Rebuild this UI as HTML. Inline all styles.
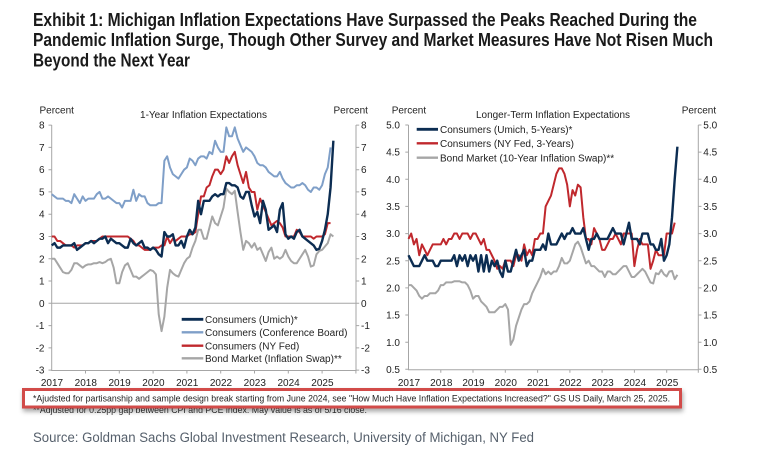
<!DOCTYPE html>
<html><head><meta charset="utf-8"><style>
html,body{margin:0;padding:0;background:#fff;}
svg{display:block;}
text{font-family:"Liberation Sans",Arial,sans-serif;}
</style></head><body>
<svg width="762" height="464" viewBox="0 0 762 464" xmlns="http://www.w3.org/2000/svg">
<defs>
<filter id="sh" x="-5%" y="-50%" width="110%" height="220%">
<feDropShadow dx="1" dy="3" stdDeviation="2.5" flood-color="#000" flood-opacity="0.35"/>
</filter>
</defs>
<rect width="762" height="464" fill="#fff"/>
<!-- Title -->
<g font-family="'Liberation Sans Narrow','Liberation Sans',sans-serif" font-weight="bold" font-size="18" fill="#1a1a1a">
<text x="33" y="26" textLength="664" lengthAdjust="spacingAndGlyphs">Exhibit 1: Michigan Inflation Expectations Have Surpassed the Peaks Reached During the</text>
<text x="33" y="46" textLength="680" lengthAdjust="spacingAndGlyphs">Pandemic Inflation Surge, Though Other Survey and Market Measures Have Not Risen Much</text>
<text x="33" y="66.5" textLength="157" lengthAdjust="spacingAndGlyphs">Beyond the Next Year</text>
</g>

<!-- LEFT PANEL -->
<g font-size="10" fill="#222">
<text x="39.5" y="113.5">Percent</text>
<text x="333.5" y="113.5">Percent</text>
<text x="203.5" y="118" text-anchor="middle" textLength="127" lengthAdjust="spacingAndGlyphs">1-Year Inflation Expectations</text>
<g text-anchor="end">
<text x="44.5" y="128.6">8</text><text x="44.5" y="150.9">7</text><text x="44.5" y="173.2">6</text><text x="44.5" y="195.4">5</text>
<text x="44.5" y="217.7">4</text><text x="44.5" y="240">3</text><text x="44.5" y="262.3">2</text><text x="44.5" y="284.5">1</text>
<text x="44.5" y="306.8">0</text><text x="44.5" y="329.1">-1</text><text x="44.5" y="351.4">-2</text><text x="44.5" y="373.6">-3</text>
</g>
<g>
<text x="361" y="128.6">8</text><text x="361" y="150.9">7</text><text x="361" y="173.2">6</text><text x="361" y="195.4">5</text>
<text x="361" y="217.7">4</text><text x="361" y="240">3</text><text x="361" y="262.3">2</text><text x="361" y="284.5">1</text>
<text x="361" y="306.8">0</text><text x="361" y="329.1">-1</text><text x="361" y="351.4">-2</text><text x="361" y="373.6">-3</text>
</g>
<g text-anchor="middle">
<text x="52" y="386">2017</text><text x="85.8" y="386">2018</text><text x="119.6" y="386">2019</text><text x="153.4" y="386">2020</text>
<text x="187.2" y="386">2021</text><text x="221" y="386">2022</text><text x="254.8" y="386">2023</text><text x="288.6" y="386">2024</text><text x="322.4" y="386">2025</text>
</g>
</g>
<g stroke="#a6a6a6" stroke-width="1" fill="none">
<path d="M51.7 125V370.5H356V125"/>
<path d="M51.7 303.3H356"/>
<path d="M48.5 125.1h3.2M48.5 147.4h3.2M48.5 169.7h3.2M48.5 191.9h3.2M48.5 214.2h3.2M48.5 236.5h3.2M48.5 258.8h3.2M48.5 281h3.2M48.5 303.3h3.2M48.5 325.6h3.2M48.5 347.9h3.2M48.5 370.1h3.2"/>
<path d="M356 125.1h3.2M356 147.4h3.2M356 169.7h3.2M356 191.9h3.2M356 214.2h3.2M356 236.5h3.2M356 258.8h3.2M356 281h3.2M356 303.3h3.2M356 325.6h3.2M356 347.9h3.2M356 370.1h3.2"/>
<path d="M85.5 370.5v3M119.3 370.5v3M153.1 370.5v3M186.9 370.5v3M220.7 370.5v3M254.5 370.5v3M288.3 370.5v3M322.1 370.5v3M355.9 370.5v3"/>
</g>
<g transform="translate(51.7,303.3) scale(2.8167,-22.27)" fill="none" stroke-linejoin="round">
<polyline vector-effect="non-scaling-stroke" stroke="#a6a6a6" stroke-width="2" points="0,2.0 1,2.0 2,1.8 3,1.6 4,1.4 5,1.35 6,1.35 7,1.5 8,1.8 9,1.8 10,1.7 11,1.6 12,1.7 13,1.75 14,1.75 15,1.8 16,1.8 17,1.85 18,1.8 19,1.85 20,1.95 21,2.0 22,1.6 23,0.9 24,0.9 25,1.4 26,1.7 27,1.8 28,1.5 29,1.2 30,1.2 31,1.1 32,1.2 33,1.3 34,1.4 35,1.5 36,1.45 37,1.3 38,-0.5 39,-1.25 40,-0.6 41,0.7 42,1.5 43,1.35 44,1.25 45,1.2 46,1.5 47,1.8 48,2.0 49,2.1 50,2.5 51,2.8 52,3.3 53,3.3 54,2.9 55,2.9 56,3.4 57,3.9 58,3.6 59,3.5 60,3.9 61,4.3 62,5.15 63,5.0 64,4.9 65,5.05 66,4.1 67,3.2 68,2.4 69,2.8 70,2.7 71,2.5 72,2.7 73,2.4 74,2.5 75,2.2 76,1.9 77,2.3 78,2.5 79,2.0 80,2.1 81,2.0 82,2.1 83,2.4 84,2.1 85,1.9 86,1.8 87,1.8 88,2.0 89,2.2 90,2.4 91,2.1 92,1.65 93,1.7 94,2.2 95,2.35 96,2.4 97,2.55 98,2.7 99,3.1 100,3.0"/>
<polyline vector-effect="non-scaling-stroke" stroke="#7f9fc8" stroke-width="2" points="0,4.9 1,4.8 2,4.7 3,4.7 4,4.7 5,4.6 6,4.6 7,4.5 8,4.9 9,4.7 10,4.5 11,4.8 12,4.6 13,4.7 14,4.7 15,4.7 16,4.9 17,5.0 18,4.7 19,4.7 20,4.8 21,4.7 22,4.6 23,4.5 24,4.5 25,4.3 26,4.6 27,4.6 28,4.6 29,5.1 30,4.6 31,4.9 32,4.8 33,4.8 34,4.5 35,4.4 36,4.4 37,4.4 38,4.5 39,4.5 40,6.4 41,6.6 42,6.1 43,5.8 44,5.7 45,5.6 46,5.8 47,6.0 48,6.1 49,6.5 50,6.4 51,6.2 52,6.5 53,6.6 54,6.6 55,6.5 56,6.8 57,6.7 58,7.3 59,7.0 60,6.8 61,6.8 62,7.9 63,7.5 64,7.5 65,7.9 66,7.4 67,7.1 68,6.8 69,7.0 70,6.9 71,6.8 72,6.6 73,6.3 74,6.2 75,6.2 76,6.1 77,5.9 78,5.8 79,5.7 80,5.7 81,5.9 82,5.6 83,5.4 84,5.3 85,5.2 86,5.2 87,5.3 88,5.3 89,5.4 90,5.3 91,5.1 92,5.0 93,5.2 94,5.2 95,5.1 96,5.3 97,5.8 98,6.1 99,7.0"/>
<polyline vector-effect="non-scaling-stroke" stroke="#c0282d" stroke-width="2" points="0,3.0 1,3.0 2,2.8 3,2.8 4,2.7 5,2.6 6,2.6 7,2.6 8,2.5 9,2.6 10,2.6 11,2.6 12,2.7 13,2.7 14,2.8 15,2.8 16,2.8 17,2.9 18,3.0 19,3.0 20,3.0 21,3.0 22,3.0 23,3.0 24,3.0 25,3.0 26,3.0 27,3.0 28,2.9 29,2.8 30,2.6 31,2.6 32,2.5 33,2.4 34,2.4 35,2.4 36,2.5 37,2.5 38,2.5 39,2.6 40,2.6 41,3.0 42,2.7 43,2.9 44,2.8 45,2.9 46,3.0 47,3.0 48,3.0 49,3.1 50,3.1 51,3.2 52,4.0 53,4.8 54,4.8 55,5.2 56,5.3 57,5.7 58,6.0 59,6.0 60,5.8 61,6.0 62,6.6 63,6.3 64,6.6 65,6.8 66,6.2 67,5.8 68,5.4 69,5.9 70,5.2 71,5.0 72,5.0 73,4.2 74,4.7 75,4.4 76,4.1 77,3.8 78,3.5 79,3.6 80,3.7 81,3.6 82,3.4 83,3.0 84,3.0 85,3.0 86,3.0 87,3.3 88,3.2 89,3.0 90,3.0 91,3.0 92,3.0 93,2.9 94,3.0 95,3.0 96,3.0 97,3.1 98,3.6 99,3.6"/>
<polyline vector-effect="non-scaling-stroke" stroke="#0c2d52" stroke-width="2.4" points="0,2.6 1,2.7 2,2.5 3,2.5 4,2.6 5,2.6 6,2.6 7,2.6 8,2.7 9,2.4 10,2.5 11,2.6 12,2.7 13,2.7 14,2.8 15,2.7 16,2.8 17,2.9 18,2.9 19,3.0 20,2.7 21,2.9 22,2.8 23,2.7 24,2.7 25,2.6 26,2.5 27,2.5 28,2.9 29,2.7 30,2.6 31,2.7 32,2.8 33,2.5 34,2.5 35,2.4 36,2.5 37,2.4 38,2.2 39,2.1 40,3.2 41,3.0 42,3.0 43,3.1 44,2.6 45,2.6 46,2.8 47,2.5 48,3.0 49,3.3 50,3.1 51,3.4 52,4.6 53,4.0 54,4.6 55,4.6 56,4.6 57,4.8 58,4.9 59,4.8 60,4.9 61,4.9 62,5.4 63,5.4 64,5.3 65,5.3 66,5.2 67,4.8 68,4.7 69,5.0 70,5.0 71,4.4 72,3.9 73,4.1 74,3.6 75,4.6 76,4.2 77,3.3 78,3.4 79,3.5 80,3.2 81,4.2 82,4.5 83,3.1 84,2.9 85,3.0 86,2.9 87,3.2 88,3.3 89,3.0 90,2.9 91,2.8 92,2.7 93,2.6 94,2.4 95,2.45 96,2.8 97,3.3 98,4.0 99,5.2 100,7.3"/>
</g>
<!-- left legend -->
<g stroke-width="2.4">
<line x1="181.7" y1="319.3" x2="203.3" y2="319.3" stroke="#0c2d52" stroke-width="2.8"/>
<line x1="181.7" y1="332.3" x2="203.3" y2="332.3" stroke="#7f9fc8"/>
<line x1="181.7" y1="345.7" x2="203.3" y2="345.7" stroke="#c0282d"/>
<line x1="181.7" y1="358.3" x2="203.3" y2="358.3" stroke="#a6a6a6"/>
</g>
<g font-size="10" fill="#222">
<text x="205" y="322.9">Consumers (Umich)*</text>
<text x="205" y="335.9" textLength="142.5" lengthAdjust="spacingAndGlyphs">Consumers (Conference Board)</text>
<text x="205" y="349.3">Consumers (NY Fed)</text>
<text x="205" y="361.9">Bond Market (Inflation Swap)**</text>
</g>

<!-- RIGHT PANEL -->
<g font-size="10" fill="#222">
<text x="391.7" y="113.5">Percent</text>
<text x="681.7" y="113.5">Percent</text>
<text x="553" y="118" text-anchor="middle" textLength="154" lengthAdjust="spacingAndGlyphs">Longer-Term Inflation Expectations</text>
<g text-anchor="end">
<text x="400" y="128.6">5.0</text><text x="400" y="155.7">4.5</text><text x="400" y="182.9">4.0</text><text x="400" y="210">3.5</text>
<text x="400" y="237.2">3.0</text><text x="400" y="264.3">2.5</text><text x="400" y="291.5">2.0</text><text x="400" y="318.6">1.5</text>
<text x="400" y="345.8">1.0</text><text x="400" y="372.9">0.5</text>
</g>
<g>
<text x="703.3" y="128.6">5.0</text><text x="703.3" y="155.7">4.5</text><text x="703.3" y="182.9">4.0</text><text x="703.3" y="210">3.5</text>
<text x="703.3" y="237.2">3.0</text><text x="703.3" y="264.3">2.5</text><text x="703.3" y="291.5">2.0</text><text x="703.3" y="318.6">1.5</text>
<text x="703.3" y="345.8">1.0</text><text x="703.3" y="372.9">0.5</text>
</g>
<g text-anchor="middle">
<text x="409" y="386">2017</text><text x="441.3" y="386">2018</text><text x="473.5" y="386">2019</text><text x="505.8" y="386">2020</text>
<text x="538.1" y="386">2021</text><text x="570.4" y="386">2022</text><text x="602.6" y="386">2023</text><text x="634.9" y="386">2024</text><text x="667.2" y="386">2025</text>
</g>
</g>
<g stroke="#a6a6a6" stroke-width="1" fill="none">
<path d="M408.5 125V369.8H698.3V125"/>
<path d="M405.3 125h3.2M405.3 152.1h3.2M405.3 179.3h3.2M405.3 206.4h3.2M405.3 233.6h3.2M405.3 260.7h3.2M405.3 287.9h3.2M405.3 315h3.2M405.3 342.2h3.2M405.3 369.3h3.2"/>
<path d="M698.3 125h3.2M698.3 152.1h3.2M698.3 179.3h3.2M698.3 206.4h3.2M698.3 233.6h3.2M698.3 260.7h3.2M698.3 287.9h3.2M698.3 315h3.2M698.3 342.2h3.2M698.3 369.3h3.2"/>
<path d="M440.8 369.8v3M473 369.8v3M505.3 369.8v3M537.6 369.8v3M569.9 369.8v3M602.1 369.8v3M634.4 369.8v3M666.7 369.8v3M698.3 369.8v3"/>
</g>
<g transform="translate(408.5,396.4) scale(2.689,-54.29)" fill="none" stroke-linejoin="round">
<polyline vector-effect="non-scaling-stroke" stroke="#a6a6a6" stroke-width="2" points="0,2.05 1,2.05 2,2.0 3,1.95 4,1.85 5,1.8 6,1.85 7,1.85 8,1.9 9,1.9 10,1.9 11,1.95 12,2.05 13,2.05 14,2.1 15,2.1 16,2.1 17,2.12 18,2.12 19,2.12 20,2.1 21,2.1 22,2.05 23,1.95 24,1.8 25,1.85 26,1.85 27,1.75 28,1.7 29,1.65 30,1.55 31,1.55 32,1.55 33,1.6 34,1.65 35,1.65 36,1.7 37,1.6 38,0.95 39,1.05 40,1.3 41,1.45 42,1.6 43,1.7 44,1.7 45,1.75 46,1.9 47,2.0 48,2.1 49,2.2 50,2.35 51,2.25 52,2.3 53,2.25 54,2.3 55,2.3 56,2.4 57,2.55 58,2.45 59,2.45 60,2.5 61,2.65 62,2.8 63,2.85 64,2.75 65,2.6 66,2.45 67,2.5 68,2.4 69,2.4 70,2.35 71,2.3 72,2.3 73,2.2 74,2.3 75,2.3 76,2.25 77,2.25 78,2.3 79,2.35 80,2.4 81,2.4 82,2.3 83,2.2 84,2.2 85,2.25 86,2.3 87,2.35 88,2.3 89,2.2 90,2.1 91,2.08 92,2.27 93,2.25 94,2.33 95,2.25 96,2.21 97,2.3 98,2.31 99,2.16 100,2.24"/>
<polyline vector-effect="non-scaling-stroke" stroke="#c0282d" stroke-width="2" points="0,2.9 1,3.0 2,2.8 3,2.9 4,2.6 5,2.8 6,2.7 7,2.6 8,2.7 9,2.8 10,2.8 11,2.8 12,2.8 13,2.9 14,2.8 15,2.9 16,2.9 17,3.0 18,3.0 19,2.9 20,3.0 21,3.0 22,3.0 23,2.9 24,3.0 25,3.0 26,2.9 27,2.8 28,2.9 29,2.7 30,2.7 31,2.6 32,2.5 33,2.35 34,2.4 35,2.35 36,2.5 37,2.5 38,2.5 39,2.4 40,2.6 41,2.6 42,2.5 43,2.8 44,2.6 45,2.7 46,2.6 47,2.9 48,2.9 49,3.0 50,3.0 51,3.5 52,3.6 53,3.7 54,3.9 55,4.1 56,4.2 57,4.2 58,4.1 59,3.9 60,3.5 61,3.8 62,3.7 63,3.9 64,3.85 65,3.3 66,2.9 67,2.9 68,2.8 69,3.1 70,3.0 71,2.9 72,2.7 73,2.7 74,2.8 75,2.9 76,2.9 77,3.0 78,2.9 79,2.8 80,3.0 81,3.0 82,3.0 83,3.0 84,2.4 85,2.7 86,2.9 87,2.8 88,2.8 89,2.8 90,2.35 91,2.5 92,2.7 93,2.6 94,2.6 95,2.6 96,3.0 97,3.0 98,3.0 99,3.2"/>
<polyline vector-effect="non-scaling-stroke" stroke="#0c2d52" stroke-width="2.4" points="0,2.6 1,2.5 2,2.4 3,2.4 4,2.4 5,2.5 6,2.6 7,2.5 8,2.5 9,2.5 10,2.4 11,2.4 12,2.5 13,2.5 14,2.5 15,2.5 16,2.5 17,2.6 18,2.4 19,2.6 20,2.5 21,2.6 22,2.4 23,2.6 24,2.5 25,2.6 26,2.3 27,2.6 28,2.3 29,2.6 30,2.3 31,2.5 32,2.4 33,2.5 34,2.3 35,2.2 36,2.5 37,2.3 38,2.3 39,2.5 40,2.7 41,2.5 42,2.6 43,2.7 44,2.4 45,2.5 46,2.5 47,2.7 48,2.7 49,2.7 50,2.8 51,2.7 52,3.0 53,2.8 54,2.8 55,2.8 56,2.9 57,3.0 58,2.9 59,3.0 60,3.0 61,3.1 62,3.0 63,3.0 64,3.0 65,3.1 66,2.9 67,2.7 68,2.9 69,2.9 70,3.0 71,2.9 72,2.9 73,2.9 74,2.9 75,3.0 76,3.1 77,3.0 78,3.0 79,3.0 80,2.8 81,3.0 82,3.2 83,2.9 84,2.9 85,2.9 86,2.8 87,3.0 88,3.0 89,3.0 90,2.8 91,2.8 92,2.7 93,2.7 94,2.9 95,2.5 96,2.6 97,2.8 98,3.3 99,4.0 100,4.6"/>
</g>
<!-- right legend -->
<g stroke-width="2.4">
<line x1="416.7" y1="129.3" x2="438" y2="129.3" stroke="#0c2d52" stroke-width="2.8"/>
<line x1="416.7" y1="143.3" x2="438" y2="143.3" stroke="#c0282d"/>
<line x1="416.7" y1="157.7" x2="438" y2="157.7" stroke="#a6a6a6"/>
</g>
<g font-size="10" fill="#222">
<text x="440" y="132.9">Consumers (Umich, 5-Years)*</text>
<text x="440" y="146.9">Consumers (NY Fed, 3-Years)</text>
<text x="440" y="161.3">Bond Market (10-Year Inflation Swap)**</text>
</g>

<!-- Footnotes -->
<text x="33" y="412.8" font-size="9.5" fill="#333" textLength="334" lengthAdjust="spacingAndGlyphs">**Adjusted for 0.25pp gap between CPI and PCE index. May value is as of 5/16 close.</text>
<rect x="23.5" y="389.5" width="657" height="17.5" fill="#fff" stroke="#d24c48" stroke-width="3" filter="url(#sh)"/>
<text x="33" y="401.5" font-size="9.5" fill="#222" textLength="637" lengthAdjust="spacingAndGlyphs">*Ajudsted for partisanship and sample design break starting from June 2024, see "How Much Have Inflation Expectations Increased?" GS US Daily, March 25, 2025.</text>

<!-- Source -->
<text x="33" y="442" font-family="'Liberation Sans Narrow','Liberation Sans',sans-serif" font-size="13.5" fill="#56606c" textLength="501" lengthAdjust="spacingAndGlyphs">Source: Goldman Sachs Global Investment Research, University of Michigan, NY Fed</text>
</svg>
</body></html>
